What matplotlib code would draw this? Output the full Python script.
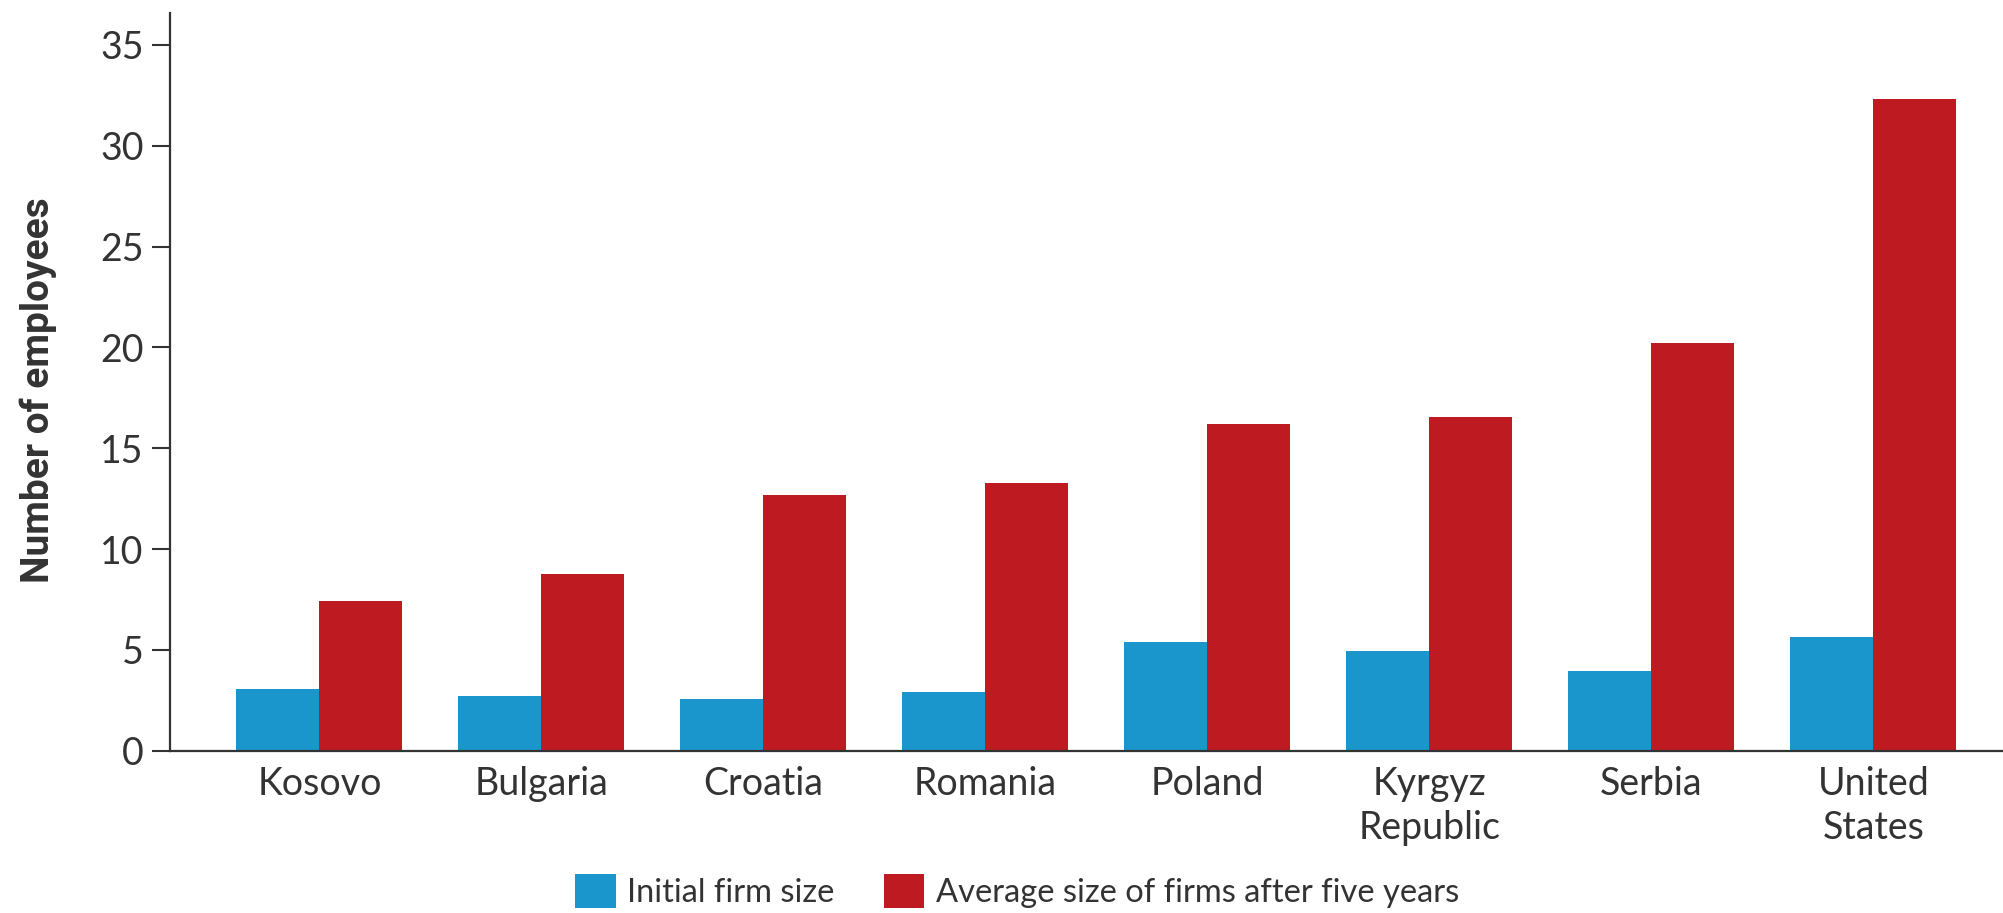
import numpy as np
import matplotlib
matplotlib.use('Agg')
import matplotlib.pyplot as plt
from matplotlib.patches import Patch

# ---- data ----
countries = ['Kosovo', 'Bulgaria', 'Croatia', 'Romania', 'Poland',
             'Kyrgyz\nRepublic', 'Serbia', 'United\nStates']
initial_size = [3.05, 2.73, 2.58, 2.93, 5.41, 4.95, 3.95, 5.66]
size_after_5y = [7.44, 8.77, 12.70, 13.26, 16.22, 16.54, 20.22, 32.31]
yticks = [0, 5, 10, 15, 20, 25, 30, 35]

BLUE = '#1b96cc'
RED = '#bd1b21'
INK = '#333333'

W, H = 2003, 913
fig = plt.figure(figsize=(W / 100, H / 100), dpi=100)
ax = fig.add_axes([170 / W, 162.3 / H, 1833 / W, 738 / H])

x = np.arange(len(countries))
bw = 0.374
ax.bar(x - bw / 2, initial_size, width=bw, color=BLUE, linewidth=0)
ax.bar(x + bw / 2, size_after_5y, width=bw, color=RED, linewidth=0)

ax.set_xlim(-0.673, 7.584)
ax.set_ylim(0, 36.6)

for s in ['top', 'right']:
    ax.spines[s].set_visible(False)
for s in ['left', 'bottom']:
    ax.spines[s].set_color(INK)
    ax.spines[s].set_linewidth(1.6)

ax.set_yticks(yticks)
ax.set_yticklabels([str(v) for v in yticks], fontfamily='Lato', fontweight='normal',
                   fontsize=27, color=INK)
ax.tick_params(axis='y', length=13, width=1.5, color=INK, pad=6)

ax.set_xticks(x)
ax.set_xticklabels(countries, fontfamily='Lato', fontweight='normal', fontsize=27,
                   color=INK, linespacing=1.28, multialignment='center')
ax.tick_params(axis='x', length=0, pad=11)

fig.text(38 / W, 1 - 390 / H, 'Number of employees', rotation=90,
         ha='center', va='center', fontsize=28, fontweight='bold',
         fontfamily='Roboto', color=INK)

handles = [Patch(facecolor=BLUE, edgecolor='none', label='Initial firm size'),
           Patch(facecolor=RED, edgecolor='none', label='Average size of firms after five years')]
leg = fig.legend(handles=handles, loc='center', bbox_to_anchor=(1017 / W, 22 / H),
                 ncol=2, frameon=False,
                 prop={'family': 'Lato', 'weight': 'normal', 'size': 23.5},
                 handlelength=1.25, handleheight=1.25, handletextpad=0.35, columnspacing=1.5,
                 borderaxespad=0, borderpad=0)
for t in leg.get_texts():
    t.set_color(INK)

fig.savefig('out.png', dpi=100)
